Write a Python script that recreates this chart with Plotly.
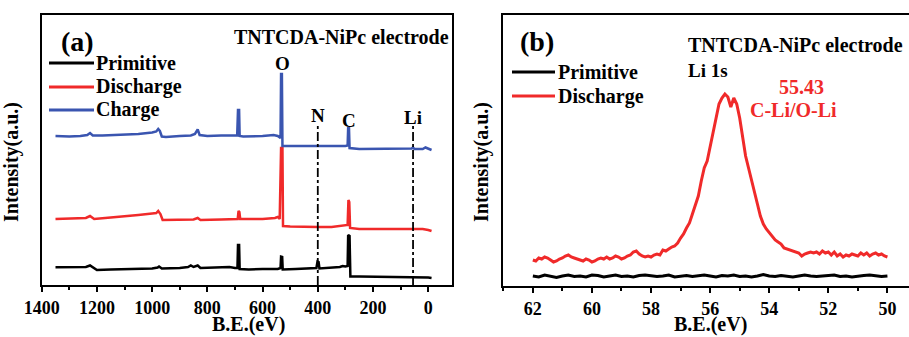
import plotly.graph_objects as go

# ---------------- (a) XPS survey ----------------
be_charge = [1350, 1300, 1260, 1235, 1225, 1215, 1180, 1100, 1050, 1000, 985, 978, 972, 965, 950, 900,
             860, 845, 835, 828, 800, 750, 700, 692, 689, 685, 683, 670, 600, 560, 545, 535, 533, 530,
             528, 500, 450, 400, 350, 300, 292, 290, 287, 285, 250, 150, 100, 60, 55, 50, 20, 10, -12]
int_charge = [149, 148.5, 149, 150, 152, 149.5, 149.5, 150, 151, 152.5, 153.5, 156, 154, 148.5, 148, 149,
              149.5, 151, 155.5, 150, 149, 149.5, 150, 149.5, 175, 175, 149, 148.5, 149, 150, 149, 147, 211, 211,
              139, 139, 138.5, 138.5, 139, 139, 139.5, 157, 157, 137, 136, 136, 136, 136.5, 137.5, 136, 136, 137.5, 135]

be_discharge = [1350, 1300, 1240, 1225, 1210, 1150, 1100, 1050, 1000, 985, 978, 970, 962, 900, 850, 835,
                825, 750, 700, 690, 687, 684, 681, 650, 600, 555, 545, 538, 533, 528, 526, 500, 450, 400,
                350, 310, 300, 292, 289, 286, 283, 250, 200, 150, 100, 50, 20, 0, -12]
int_discharge = [66, 66.5, 67, 69, 66, 67.5, 68.5, 70, 71.5, 72, 74, 71, 65, 65, 65.5, 67,
                 65, 65.5, 66, 66, 74, 73, 66, 66, 66, 67, 68, 66, 137, 137, 59, 58.5, 58, 58,
                 58, 59, 59.5, 60, 85, 83, 57, 56, 56, 56, 56, 55.5, 56, 55, 54]

be_primitive = [1350, 1300, 1240, 1225, 1212, 1200, 1150, 1100, 1050, 1000, 980, 975, 965, 900, 870, 860,
                850, 835, 825, 760, 720, 700, 691, 689, 685, 683, 650, 600, 545, 535, 533, 529, 527, 480,
                420, 405, 401, 397, 394, 350, 320, 310, 300, 292, 290, 285, 282, 250, 200, 150, 100, 50,
                20, 0, -12]
int_primitive = [17.7, 17.5, 18, 19.5, 17, 15, 15.5, 16, 16.5, 16.5, 17.5, 18.5, 16.5, 17, 18, 19.5,
                 18, 19.5, 17, 17.5, 18, 17, 17, 40, 40, 16, 15.5, 16, 16, 17, 28.3, 28, 15.5, 16,
                 16.5, 17, 23.5, 23, 16.5, 17, 18, 19, 18.5, 19, 50, 49, 8.5, 8.5, 8.3, 8.5, 8, 8,
                 7.5, 7.5, 7]

marker_lines_be = [400, 55]

# ---------------- (b) Li 1s ----------------
be_li_red = [62.0, 61.9, 61.8, 61.7, 61.6, 61.5, 61.4, 61.3, 61.2, 61.1, 61.0, 60.9, 60.8, 60.7, 60.6, 60.5,
             60.4, 60.3, 60.2, 60.1, 60.0, 59.9, 59.8, 59.7, 59.6, 59.5, 59.4, 59.3, 59.2, 59.1, 59.0, 58.9,
             58.8, 58.7, 58.6, 58.5, 58.4, 58.3, 58.2, 58.1, 58.0, 57.9, 57.8, 57.7, 57.6, 57.5, 57.4, 57.3,
             57.2, 57.1, 57.0, 56.9, 56.8, 56.7, 56.6, 56.5, 56.4, 56.3, 56.2, 56.1, 56.0, 55.9, 55.8, 55.7,
             55.6, 55.5, 55.4, 55.3, 55.2, 55.1, 55.0, 54.9, 54.8, 54.7, 54.6, 54.5, 54.4, 54.3, 54.2, 54.1,
             54.0, 53.9, 53.8, 53.7, 53.6, 53.5, 53.4, 53.3, 53.2, 53.1, 53.0, 52.9, 52.8, 52.7, 52.6, 52.5,
             52.4, 52.3, 52.2, 52.1, 52.0, 51.9, 51.8, 51.7, 51.6, 51.5, 51.4, 51.3, 51.2, 51.1, 51.0, 50.9,
             50.8, 50.7, 50.6, 50.5, 50.4, 50.3, 50.2, 50.1, 50.0]
int_li_red = [26, 25, 28, 27, 29, 28, 26, 24, 25, 27, 28, 30, 31, 29, 28, 27,
              26, 25, 27, 26, 24, 25, 27, 28, 27, 29, 27, 28, 30, 29, 27, 28,
              30, 31, 34, 35, 32, 30, 29, 30, 29, 31, 32, 31, 36, 35, 37, 39,
              40, 43, 48, 52, 58, 63, 72, 82, 90, 105, 118, 125, 140, 155, 170, 182,
              188, 192, 189, 179, 188, 182, 168, 150, 130, 118, 105, 93, 82, 70, 62, 57,
              53, 50, 46, 44, 42, 38, 37, 36, 35, 34, 33, 30, 32, 33, 34, 33,
              34, 32, 35, 33, 34, 31, 34, 30, 32, 29, 31, 30, 32, 31, 30, 33,
              31, 33, 30, 32, 33, 31, 32, 30, 29]

be_li_black = [62.0, 61.8, 61.6, 61.4, 61.2, 61.0, 60.8, 60.6, 60.4, 60.2, 60.0, 59.8, 59.6, 59.4, 59.2, 59.0,
               58.8, 58.6, 58.4, 58.2, 58.0, 57.8, 57.6, 57.4, 57.2, 57.0, 56.8, 56.6, 56.4, 56.2, 56.0, 55.8,
               55.6, 55.4, 55.2, 55.0, 54.8, 54.6, 54.4, 54.2, 54.0, 53.8, 53.6, 53.4, 53.2, 53.0, 52.8, 52.6,
               52.4, 52.2, 52.0, 51.8, 51.6, 51.4, 51.2, 51.0, 50.8, 50.6, 50.4, 50.2, 50.0]
int_li_black = [10, 9, 11, 10, 8.5, 10, 11, 9.5, 10, 9, 11, 10.5, 9, 10, 11, 9.5,
                10, 9, 10.5, 11, 10, 9.5, 10, 11, 9, 10, 10.5, 9.5, 10, 11, 10, 9,
                10.5, 10, 11, 9.5, 10, 9, 10, 11.5, 10, 9.5, 10.5, 10, 9, 10, 11, 10,
                9.5, 10, 10.5, 11, 9.5, 10, 9, 10, 10.5, 11, 10, 9.5, 10]

assert len(be_charge) == len(int_charge)
assert len(be_discharge) == len(int_discharge)
assert len(be_primitive) == len(int_primitive)
assert len(be_li_red) == len(int_li_red)
assert len(be_li_black) == len(int_li_black)

BLACK = "#000000"
RED = "#f02a2a"
BLUE = "#3a55b0"
FONT = "Liberation Serif"
W, H = 909, 337

fig = go.Figure()
fig.add_trace(go.Scatter(x=be_primitive, y=int_primitive, mode="lines", name="Primitive",
                         line=dict(color=BLACK, width=2.5), xaxis="x", yaxis="y", showlegend=False))
fig.add_trace(go.Scatter(x=be_discharge, y=int_discharge, mode="lines", name="Discharge",
                         line=dict(color=RED, width=2.5), xaxis="x", yaxis="y", showlegend=False))
fig.add_trace(go.Scatter(x=be_charge, y=int_charge, mode="lines", name="Charge",
                         line=dict(color=BLUE, width=2.5), xaxis="x", yaxis="y", showlegend=False))
fig.add_trace(go.Scatter(x=be_li_black, y=int_li_black, mode="lines", name="Primitive",
                         line=dict(color=BLACK, width=3), xaxis="x2", yaxis="y2", showlegend=False))
fig.add_trace(go.Scatter(x=be_li_red, y=int_li_red, mode="lines", name="Discharge",
                         line=dict(color=RED, width=3), xaxis="x2", yaxis="y2", showlegend=False))

tickfont = dict(family=FONT, size=18, color="black", weight="bold")
common_x = dict(showline=True, linewidth=2, linecolor="black", mirror=True, ticks="outside",
                ticklen=5, tickwidth=2, tickcolor="black", showgrid=False, zeroline=False,
                tickfont=tickfont, automargin=False)

fig.update_layout(
    width=W, height=H, margin=dict(l=0, r=0, t=0, b=0, autoexpand=False),
    paper_bgcolor="white", plot_bgcolor="white",
    xaxis=dict(domain=[41.7 / W, 451.7 / W], range=[1400, -85], dtick=200, tick0=0,
               minor=dict(dtick=100, ticks="outside", ticklen=3, tickwidth=1.5, tickcolor="black"),
               anchor="y", **common_x),
    yaxis=dict(domain=[1 - 285 / H, 1 - 15 / H], range=[0, 270], showline=True, linewidth=2,
               linecolor="black", mirror=True, showticklabels=False, ticks="", showgrid=False,
               zeroline=False, anchor="x", automargin=False),
    xaxis2=dict(domain=[503.3 / W, 1.0], range=[63.0, 49.27], dtick=2, tick0=0,
                minor=dict(dtick=1, ticks="outside", ticklen=3, tickwidth=1.5, tickcolor="black"),
                anchor="y2", **common_x),
    yaxis2=dict(domain=[1 - 286 / H, 1 - 15 / H], range=[0, 271], showline=True, linewidth=2,
                linecolor="black", mirror=False, showticklabels=False, ticks="", showgrid=False,
                zeroline=False, anchor="x2", automargin=False),
)

# dash-dot marker lines at N 1s and Li 1s positions
for be in marker_lines_be:
    fig.add_shape(type="line", xref="x", yref="y domain", x0=be, x1=be, y0=0, y1=0.59,
                  line=dict(color="black", width=1.8, dash="dashdot"))


def px(x):
    return x / W


def py(y):
    return 1 - y / H


def txt(text, x, y, size, color="black", xanchor="center", angle=0, yanchor="middle"):
    fig.add_annotation(text="<b>" + text + "</b>", xref="paper", yref="paper", x=px(x), y=py(y),
                       xanchor=xanchor, yanchor=yanchor, showarrow=False, textangle=angle,
                       font=dict(family=FONT, size=size, color=color), borderpad=0)


# panel (a)
txt("(a)", 77, 42, 28)
txt("TNTCDA-NiPc electrode", 341, 37, 20)
txt("O", 282, 63, 19)
txt("N", 318, 115, 19)
txt("C", 349, 120, 19)
txt("Li", 413, 117, 19)
txt("Intensity(a.u.)", 12, 162, 20, angle=-90)
txt("B.E.(eV)", 248, 337, 20, yanchor="bottom")

# legend (a)
for name, color, yy in [("Primitive", BLACK, 63), ("Discharge", RED, 87), ("Charge", BLUE, 110)]:
    fig.add_shape(type="line", xref="paper", yref="paper", x0=px(49), x1=px(94), y0=py(yy), y1=py(yy),
                  line=dict(color=color, width=3))
    txt(name, 95, yy, 20, xanchor="left")

# panel (b)
txt("(b)", 537, 42, 28)
txt("TNTCDA-NiPc electrode", 687, 45, 20, xanchor="left")
txt("Li 1s", 687, 70, 19, xanchor="left")
txt("55.43", 801, 87, 20, color=RED)
txt("C-Li/O-Li", 793, 110, 20, color=RED)
txt("Intensity(a.u.)", 482, 162, 20, angle=-90)
txt("B.E.(eV)", 710, 337, 20, yanchor="bottom")

for name, color, yy in [("Primitive", BLACK, 72), ("Discharge", RED, 96)]:
    fig.add_shape(type="line", xref="paper", yref="paper", x0=px(512), x1=px(555), y0=py(yy), y1=py(yy),
                  line=dict(color=color, width=3))
    txt(name, 557, yy, 20, xanchor="left")

fig.write_html("out.html", config={"displayModeBar": False},
               post_script="document.body.style.margin='0';document.body.style.overflow='hidden';")
